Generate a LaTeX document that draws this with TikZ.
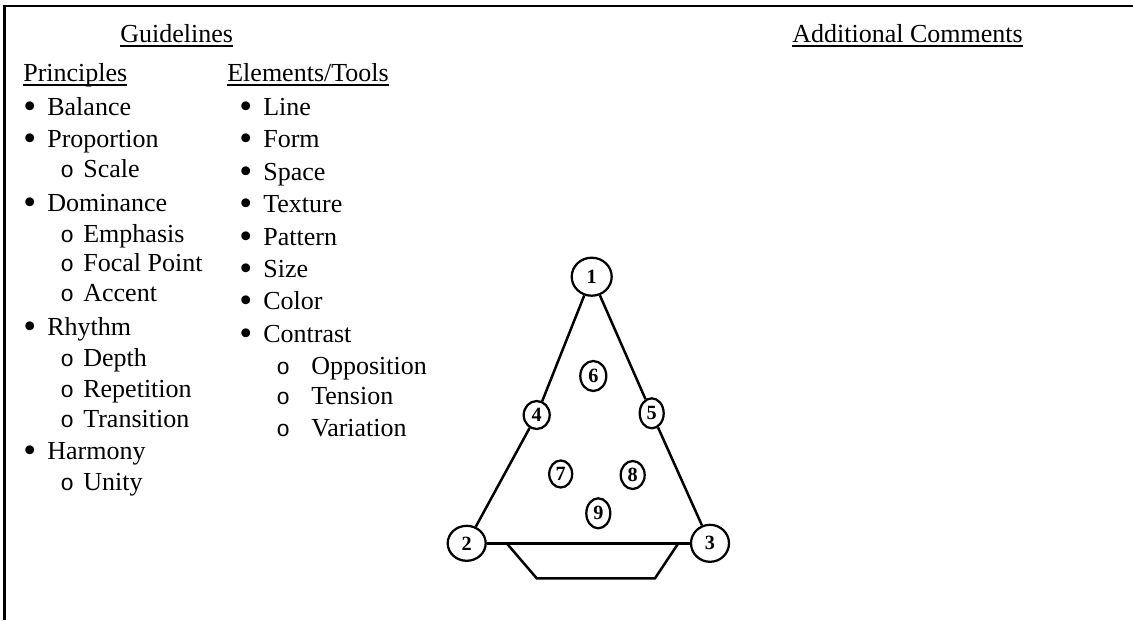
\documentclass[tikz,border=0pt]{standalone}
\usepackage{fontspec}
\setmainfont{Liberation Serif}
\newfontfamily\subfont{Liberation Mono}
\usetikzlibrary{shapes.geometric}

\newcommand{\ulined}[1]{\setbox0\hbox{#1}\rlap{\rule[-0.09cm]{\wd0}{0.04cm}}\box0}
\newcommand{\bul}{\makebox[0.48cm][l]{\smash{\raisebox{-0.07cm}{\fontsize{21}{21}\selectfont\textbullet}}}}
\newcommand{\subl}{\makebox[0.46cm][l]{\subfont\fontsize{13}{13}\selectfont o}}
\newcommand{\subr}{\makebox[0.70cm][l]{\subfont\fontsize{13}{13}\selectfont o}}

\tikzset{
    txt/.style={anchor=base west, inner sep=0pt, font=\fontsize{14.8}{17}\selectfont},
    num/.style={draw, ellipse, line width=0.045cm, inner sep=0pt, font=\fontsize{11.5}{12}\selectfont\bfseries},
}

\begin{document}
\begin{tikzpicture}[x=0.02cm, y=-0.02cm]
        \useasboundingbox (0,0) rectangle (1133,620);
        % Frame
        \draw[line width=0.046cm] (4.5,620) -- (4.5,6) -- (1133,6);

        % Headings
        \node[txt] (guide) at (120,42) {\ulined{Guidelines}};
        \node[txt] (comments) at (792,42) {\ulined{Additional Comments}};
        \node[txt] (princ) at (23,81.5) {\ulined{Principles}};
        \node[txt] (elem) at (227,81.5) {\ulined{Elements/Tools}};

        % Principles
        \node[txt] (balance) at (23,115) {\bul Balance};
        \node[txt] (proportion) at (23,147) {\bul Proportion};
        \node[txt] (scale) at (60,177) {\subl Scale};
        \node[txt] (dominance) at (23,211) {\bul Dominance};
        \node[txt] (emphasis) at (60,242) {\subl Emphasis};
        \node[txt] (focal) at (60,271) {\subl Focal Point};
        \node[txt] (accent) at (60,301) {\subl Accent};
        \node[txt] (rhythm) at (23,335) {\bul Rhythm};
        \node[txt] (depth) at (60,366) {\subl Depth};
        \node[txt] (repetition) at (60,397) {\subl Repetition};
        \node[txt] (transition) at (60,427) {\subl Transition};
        \node[txt] (harmony) at (23,459) {\bul Harmony};
        \node[txt] (unity) at (60,490) {\subl Unity};

        % Elements/Tools
        \node[txt] (line) at (239,115) {\bul Line};
        \node[txt] (form) at (239,147) {\bul Form};
        \node[txt] (space) at (239,180) {\bul Space};
        \node[txt] (texture) at (239,212) {\bul Texture};
        \node[txt] (pattern) at (239,245) {\bul Pattern};
        \node[txt] (size) at (239,277) {\bul Size};
        \node[txt] (color) at (239,309) {\bul Color};
        \node[txt] (contrast) at (239,342) {\bul Contrast};
        \node[txt] (opposition) at (276,374) {\subr Opposition};
        \node[txt] (tension) at (276,404) {\subr Tension};
        \node[txt] (variation) at (276,436) {\subr Variation};

        % Diagram
        \node[num, minimum width=0.80cm, minimum height=0.76cm] (n1) at (591.7,276.7) {1};
        \node[num, minimum width=0.76cm, minimum height=0.70cm] (n2) at (466.7,543.3) {2};
        \node[num, minimum width=0.76cm, minimum height=0.74cm] (n3) at (710,543.3) {3};
        \node[num, minimum width=0.52cm, minimum height=0.56cm] (n4) at (536.7,415) {4};
        \node[num, minimum width=0.48cm, minimum height=0.60cm] (n5) at (651.7,413.3) {5};
        \node[num, minimum width=0.52cm, minimum height=0.60cm] (n6) at (593.3,376) {6};
        \node[num, minimum width=0.46cm, minimum height=0.54cm] (n7) at (560.7,474) {7};
        \node[num, minimum width=0.48cm, minimum height=0.56cm] (n8) at (632.7,475) {8};
        \node[num, minimum width=0.48cm, minimum height=0.60cm] (n9) at (598.3,513.3) {9};
        \coordinate (trapTL) at (506.7,543.3);
        \coordinate (trapBL) at (536.7,578.3);
        \coordinate (trapBR) at (655,578.3);
        \coordinate (trapTR) at (678.3,543.3);

        % Lines
        \draw[line width=0.05cm] (n1) -- (n4);
        \draw[line width=0.05cm] (n4) -- (n2);
        \draw[line width=0.05cm] (n1) -- (n5);
        \draw[line width=0.05cm] (n5) -- (n3);
        \draw[line width=0.05cm] (n2) -- (n3);
        \draw[line width=0.05cm] (trapTL) -- (trapBL) -- (trapBR) -- (trapTR);

    \end{tikzpicture}
\end{document}
